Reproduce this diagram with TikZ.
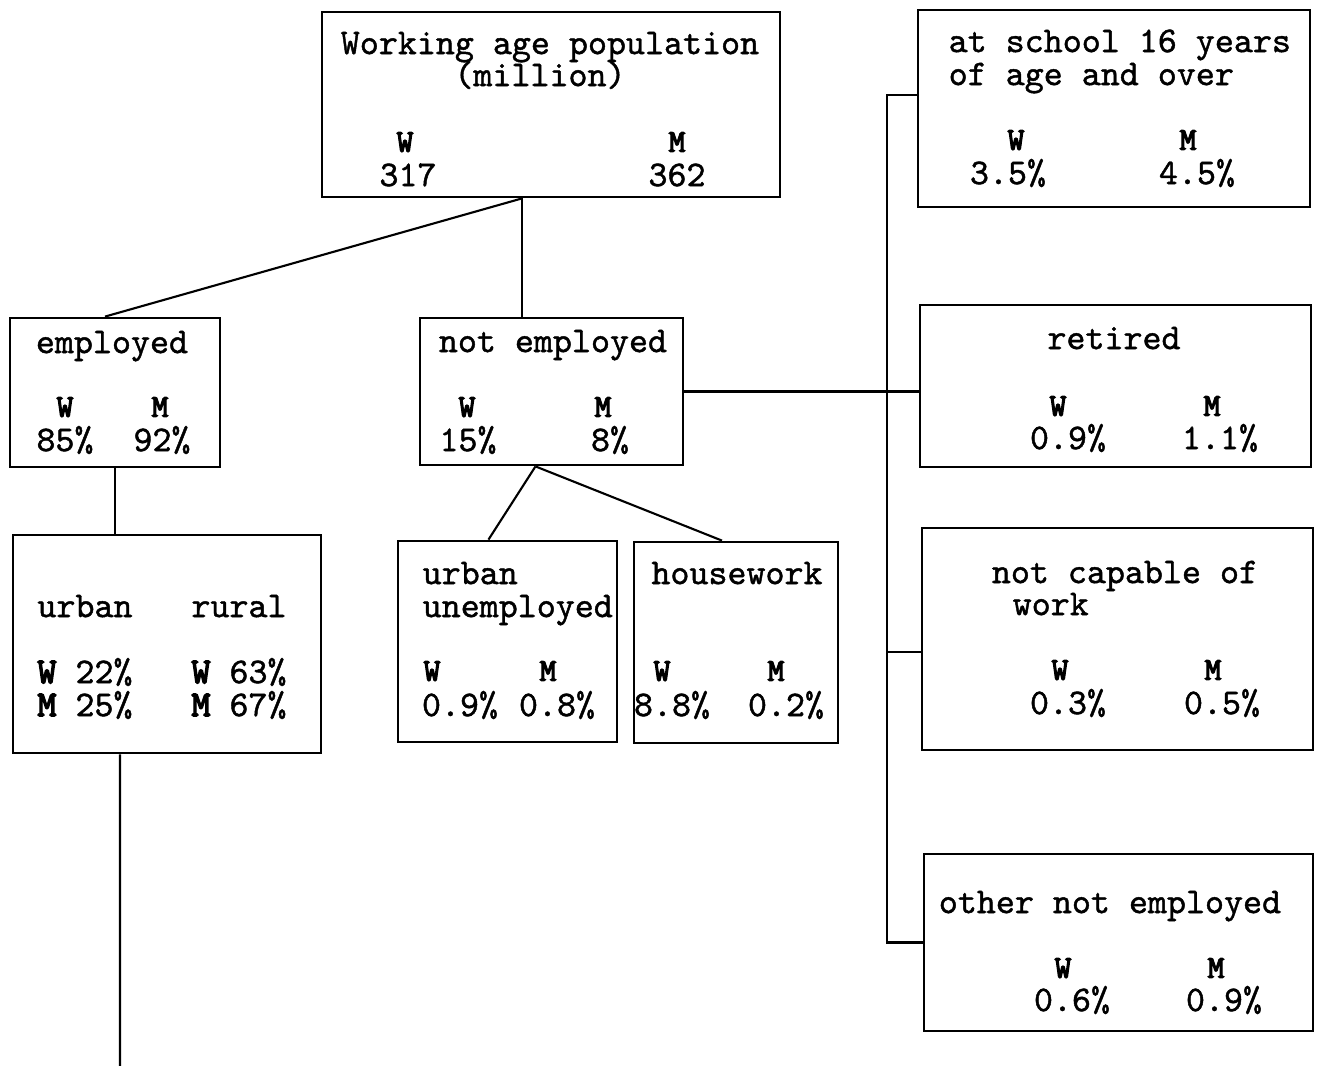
\documentclass[tikz,border=0pt]{standalone}
\usepackage{fontspec}
\usetikzlibrary{fit}
\setmonofont{lmmono10-regular.otf}[FakeBold=1.2]
\newfontfamily\sexfam{lmmono10-regular.otf}[FakeBold=4]
\newcommand\labfont{\fontsize{10.3}{12}\selectfont\ttfamily}
\newcommand\sexfont{\fontsize{9}{10}\selectfont\sexfam}
\tikzset{
  box/.style={draw, line width=0.8pt, inner sep=0pt},
  txt/.style={inner sep=0pt, font=\labfont, text height=6.3pt, text depth=0pt},
  sex/.style={inner sep=0pt, font=\sexfont, text height=5.5pt, text depth=0pt},
  link/.style={line width=0.6pt}
}
\begin{document}
\begin{tikzpicture}[x=0.01cm,y=-0.01cm]
\useasboundingbox (0,0) rectangle (1320,1066);
% boxes
\node[box, fit={(322,12) (780,197)}] (pop) {};
\node[box, fit={(10,318) (220,467)}] (empl) {};
\node[box, fit={(420,318) (683,465)}] (nemp) {};
\node[box, fit={(13,535) (321,753)}] (area) {};
\node[box, fit={(398,541) (617,742)}] (unemp) {};
\node[box, fit={(634,542) (838,743)}] (house) {};
\node[box, fit={(918,10) (1310,207)}] (school) {};
\node[box, fit={(920,305) (1311,467)}] (retired) {};
\node[box, fit={(922,528) (1313,750)}] (incap) {};
\node[box, fit={(924,854) (1313,1031)}] (other) {};
% working age population
\node[txt] (popA) at (550,43) {Working age population};
\node[txt] (popB) at (540,75) {(million)};
\node[sex] (popW) at (405,142) {W};
\node[sex] (popM) at (677,142) {M};
\node[txt] (popWn) at (408,175) {317};
\node[txt] (popMn) at (677,175) {362};
% employed
\node[txt] (emplA) at (112,342) {employed};
\node[sex] (emplW) at (65,407) {W};
\node[sex] (emplM) at (160,407) {M};
\node[txt] (emplWn) at (65,440) {85\%};
\node[txt] (emplMn) at (162,440) {92\%};
% not employed
\node[txt] (nempA) at (553,341) {not employed};
\node[sex] (nempW) at (467,407) {W};
\node[sex] (nempM) at (603,407) {M};
\node[txt] (nempWn) at (468,440) {15\%};
\node[txt] (nempMn) at (610,440) {8\%};
% urban / rural
\node[txt] (areaU) at (85,606) {urban};
\node[txt] (areaR) at (239,606) {rural};
\node[txt] (areaUW) at (85,672) {{\sexfam W} 22\%};
\node[txt] (areaRW) at (239,672) {{\sexfam W} 63\%};
\node[txt] (areaUM) at (85,705) {{\sexfam M} 25\%};
\node[txt] (areaRM) at (239,705) {{\sexfam M} 67\%};
% urban unemployed
\node[txt, anchor=west] (unempA) at (422,573) {urban};
\node[txt, anchor=west] (unempB) at (422,606) {unemployed};
\node[sex] (unempW) at (432,671) {W};
\node[sex] (unempM) at (548,671) {M};
\node[txt] (unempWn) at (460,705) {0.9\%};
\node[txt] (unempMn) at (557,705) {0.8\%};
% housework
\node[txt] (houseA) at (737,573) {housework};
\node[sex] (houseW) at (662,671) {W};
\node[sex] (houseM) at (776,671) {M};
\node[txt] (houseWn) at (672,705) {8.8\%};
\node[txt] (houseMn) at (786,705) {0.2\%};
% at school
\node[txt, anchor=west] (schoolA) at (948,41) {at school 16 years};
\node[txt, anchor=west] (schoolB) at (948,74) {of age and over};
\node[sex] (schoolW) at (1016,140) {W};
\node[sex] (schoolM) at (1188,140) {M};
\node[txt] (schoolWn) at (1008,173) {3.5\%};
\node[txt] (schoolMn) at (1197,173) {4.5\%};
% retired
\node[txt] (retiredA) at (1114,338) {retired};
\node[sex] (retiredW) at (1058,406) {W};
\node[sex] (retiredM) at (1212,406) {M};
\node[txt] (retiredWn) at (1068,438) {0.9\%};
\node[txt] (retiredMn) at (1220,438) {1.1\%};
% not capable of work
\node[txt] (incapA) at (1125,572) {not capable of};
\node[txt, anchor=west] (incapB) at (1012,604) {work};
\node[sex] (incapW) at (1060,670) {W};
\node[sex] (incapM) at (1213,670) {M};
\node[txt] (incapWn) at (1068,703) {0.3\%};
\node[txt] (incapMn) at (1222,703) {0.5\%};
% other not employed
\node[txt] (otherA) at (1110,902) {other not employed};
\node[sex] (otherW) at (1063,968) {W};
\node[sex] (otherM) at (1216,968) {M};
\node[txt] (otherWn) at (1072,1000) {0.6\%};
\node[txt] (otherMn) at (1224,1000) {0.9\%};
% connectors
\coordinate (fork) at ([xshift=-0.29cm]pop.south);
\draw[link] (fork) -- ([xshift=-0.10cm]empl.north);
\draw[link] (fork) -- (fork |- nemp.north);
\draw[link] (empl.south) -- (empl.south |- area.north);
\coordinate (tail) at (120,1066);
\draw[link] ([xshift=-0.47cm]area.south) -- (tail);
\coordinate (nfork) at ([xshift=-0.16cm]nemp.south);
\draw[link] (nfork) -- ([xshift=-0.19cm]unemp.north);
\draw[link] (nfork) -- ([xshift=-0.14cm]house.north);
\coordinate (bus) at (887,0);
\coordinate (schoolin) at ([yshift=0.135cm]school.west);
\coordinate (incapin) at ([yshift=-0.13cm]incap.west);
\draw[link] (schoolin) -| (other.west -| bus) -- (other.west);
\draw[link] (nemp.east) -- (nemp.east -| retired.west);
\draw[link] (incapin) -- (incapin -| bus);
\end{tikzpicture}
\end{document}
